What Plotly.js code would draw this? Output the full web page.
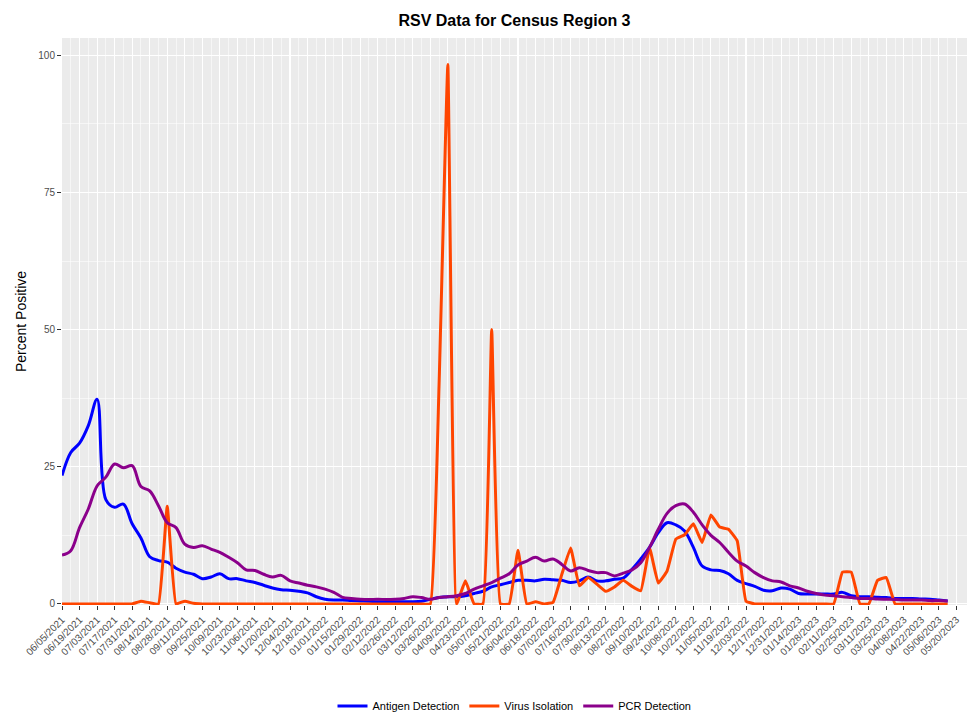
<!DOCTYPE html>
<html>
<head>
<meta charset="utf-8">
<script src="https://cdn.plot.ly/plotly-3.0.1.min.js"></script>
<style>
  html, body { margin: 0; padding: 0; background: #ffffff; }
  #chart { width: 967px; height: 716px; }
</style>
</head>
<body>
<div id="chart"></div>
<script>
// Weekly report dates
const dates = [
  "2021-06-05","2021-06-12","2021-06-19","2021-06-26","2021-07-03","2021-07-10","2021-07-17","2021-07-24",
  "2021-07-31","2021-08-07","2021-08-14","2021-08-21","2021-08-28","2021-09-04","2021-09-11","2021-09-18",
  "2021-09-25","2021-10-02","2021-10-09","2021-10-16","2021-10-23","2021-10-30","2021-11-06","2021-11-13",
  "2021-11-20","2021-11-27","2021-12-04","2021-12-11","2021-12-18","2021-12-25","2022-01-01","2022-01-08",
  "2022-01-15","2022-01-22","2022-01-29","2022-02-05","2022-02-12","2022-02-19","2022-02-26","2022-03-05",
  "2022-03-12","2022-03-19","2022-03-26","2022-04-02","2022-04-09","2022-04-16","2022-04-23","2022-04-30",
  "2022-05-07","2022-05-14","2022-05-21","2022-05-28","2022-06-04","2022-06-11","2022-06-18","2022-06-25",
  "2022-07-02","2022-07-09","2022-07-16","2022-07-23","2022-07-30","2022-08-06","2022-08-13","2022-08-20",
  "2022-08-27","2022-09-03","2022-09-10","2022-09-17","2022-09-24","2022-10-01","2022-10-08","2022-10-15",
  "2022-10-22","2022-10-29","2022-11-05","2022-11-12","2022-11-19","2022-11-26","2022-12-03","2022-12-10",
  "2022-12-17","2022-12-24","2022-12-31","2023-01-07","2023-01-14","2023-01-21","2023-01-28","2023-02-04",
  "2023-02-11","2023-02-18","2023-02-25","2023-03-04","2023-03-11","2023-03-18","2023-03-25","2023-04-01",
  "2023-04-08","2023-04-15","2023-04-22","2023-04-29","2023-05-06","2023-05-13","2023-05-20"
];

// Percent positive, Antigen Detection
const antigen = [
  23.4, 27.6, 29.3, 32.5, 37.3, 19.0, 17.6, 18.2, 14.6, 12.0,
  8.6, 7.9, 7.6, 6.5, 5.8, 5.4, 4.6, 4.9, 5.5, 4.6,
  4.6, 4.2, 3.9, 3.4, 2.9, 2.6, 2.5, 2.3, 2.0, 1.3,
  0.85, 0.7, 0.7, 0.6, 0.55, 0.5, 0.4, 0.4, 0.4, 0.4,
  0.4, 0.5, 0.85, 1.15, 1.3, 1.3, 1.5, 1.9, 2.3, 3.1,
  3.5, 3.9, 4.3, 4.3, 4.2, 4.5, 4.4, 4.3, 3.9, 4.2,
  4.9, 4.2, 4.2, 4.5, 4.7, 6.3, 8.2, 10.3, 13.0, 14.8,
  14.4, 13.3, 10.3, 6.9, 6.2, 6.1, 5.5, 4.3, 3.7, 3.2,
  2.5, 2.4, 2.9, 2.7, 1.9, 1.8, 1.8, 1.8, 1.8, 2.1,
  1.5, 1.3, 1.3, 1.2, 1.15, 1.0, 1.0, 1.0, 0.9, 0.85,
  0.7, 0.55, null
];

// Percent positive, Virus Isolation
const virusIsolation = [
  0, 0, 0, 0, 0, 0, 0, 0, 0, 0.5,
  0.2, 0, 17.8, 0, 0.5, 0.1, 0, 0, 0, 0,
  0, 0, 0, 0, 0, 0, 0, 0, 0, 0,
  0, 0, 0, 0, 0, 0, 0, 0, 0, 0,
  0, 0, 0, 40, 98.3, 0, 4.2, 0, 0, 50,
  0, 0, 9.8, 0, 0.4, 0, 0.3, 5.4, 10.2, 3.3,
  4.8, 3.6, 2.3, 3.1, 4.3, 3.2, 2.4, 10.2, 3.8, 6.0,
  11.8, 12.6, 14.6, 11.2, 16.2, 14.0, 13.6, 11.5, 0.5, 0,
  0, 0, 0, 0, 0, 0, 0, 0, 0, 5.8,
  5.8, 0, 0, 4.3, 4.8, 0, 0, 0, 0, 0,
  0, 0, null
];

// Percent positive, PCR Detection
const pcr = [
  8.9, 9.7, 13.9, 17.3, 21.5, 23.1, 25.5, 24.8, 25.2, 21.4,
  20.6, 17.9, 14.8, 13.9, 10.9, 10.3, 10.6, 10.0, 9.4, 8.5,
  7.5, 6.2, 6.1, 5.4, 4.9, 5.2, 4.2, 3.8, 3.4, 3.1,
  2.7, 2.1, 1.2, 1.0, 0.85, 0.8, 0.85, 0.8, 0.85, 1.0,
  1.3, 1.15, 0.85, 1.15, 1.3, 1.5, 1.9, 2.7, 3.3, 3.9,
  4.7, 5.5, 7.1, 7.8, 8.5, 7.8, 8.2, 7.2, 6.0, 6.6,
  6.1, 5.7, 5.7, 5.1, 5.6, 6.2, 7.5, 10.3, 13.6, 16.5,
  17.9, 18.2, 16.7, 14.4, 12.5, 11.2, 9.4, 7.8, 6.9, 5.7,
  4.8, 4.2, 4.0, 3.3, 2.9, 2.3, 1.9, 1.6, 1.5, 1.3,
  1.15, 1.0, 1.0, 0.9, 0.85, 0.8, 0.7, 0.7, 0.7, 0.6,
  0.6, 0.55, null
];

const seriesNames = ["Antigen Detection", "Virus Isolation", "PCR Detection"];
const seriesColors = ["#0000FF", "#FF4500", "#8B008B"];
const seriesSmoothing = [1, 0.3, 1];
const yTicks = [0, 25, 50, 75, 100];
const yMinor = [12.5, 37.5, 62.5, 87.5];

function fmt(d) {
  const p = d.split("-");
  return p[1] + "/" + p[2] + "/" + p[0];
}
const majorDates = dates.filter((d, i) => i % 2 === 0);
const minorDates = dates.filter((d, i) => i % 2 === 1);
const tickLabels = majorDates.map(fmt);

const values = [antigen, virusIsolation, pcr];
const traces = values.map((v, k) => ({
  type: "scatter",
  mode: "lines",
  name: seriesNames[k],
  x: dates,
  y: v,
  line: { color: seriesColors[k], width: 3, shape: "spline", smoothing: seriesSmoothing[k] },
  connectgaps: false
}));

const tickFont = { family: "Liberation Sans, Arial, sans-serif", size: 10, color: "#4D4D4D" };

const layout = {
  width: 967,
  height: 716,
  margin: { l: 62, r: 0, t: 38, b: 111 },
  paper_bgcolor: "#FFFFFF",
  plot_bgcolor: "#EBEBEB",
  font: { family: "Liberation Sans, Arial, sans-serif", color: "#000000" },
  title: {
    text: "<b>RSV Data for Census Region 3</b>",
    font: { family: "Liberation Sans, Arial, sans-serif", size: 16, color: "#000000" },
    x: 0.5, xref: "paper", xanchor: "center",
    y: 0.972, yref: "container", yanchor: "middle"
  },
  xaxis: {
    type: "date",
    range: ["2021-06-05", "2023-05-28 10:00"],
    tickmode: "array",
    tickvals: majorDates,
    ticktext: tickLabels,
    tickangle: -45,
    tickfont: tickFont,
    ticks: "outside",
    ticklen: 4,
    tickwidth: 1,
    tickcolor: "#333333",
    showgrid: true,
    gridcolor: "#FFFFFF",
    gridwidth: 1.1,
    minor: { tickmode: "array", tickvals: minorDates, showgrid: true, gridcolor: "#FFFFFF", gridwidth: 0.55, ticks: "" },
    zeroline: false,
    showline: false,
    fixedrange: true
  },
  yaxis: {
    range: [-0.2, 103.15],
    tickmode: "array",
    tickvals: yTicks,
    ticktext: yTicks.map(String),
    tickfont: tickFont,
    ticks: "outside",
    ticklen: 4,
    tickwidth: 1,
    tickcolor: "#333333",
    showgrid: true,
    gridcolor: "#FFFFFF",
    gridwidth: 1.1,
    minor: { tickmode: "array", tickvals: yMinor, showgrid: true, gridcolor: "#FFFFFF", gridwidth: 0.55, ticks: "" },
    zeroline: false,
    showline: false,
    title: {
      text: "Percent Positive",
      font: { family: "Liberation Sans, Arial, sans-serif", size: 14, color: "#000000" },
      standoff: 8
    },
    automargin: false,
    fixedrange: true
  },
  showlegend: true,
  legend: {
    orientation: "h",
    x: 0.5, xref: "paper", xanchor: "center",
    y: 0.014, yref: "container", yanchor: "middle",
    font: { family: "Liberation Sans, Arial, sans-serif", size: 11, color: "#000000" },
    bgcolor: "rgba(0,0,0,0)",
    itemwidth: 30,
    traceorder: "normal"
  }
};

Plotly.newPlot("chart", traces, layout, { displayModeBar: false, staticPlot: true });
</script>
</body>
</html>
